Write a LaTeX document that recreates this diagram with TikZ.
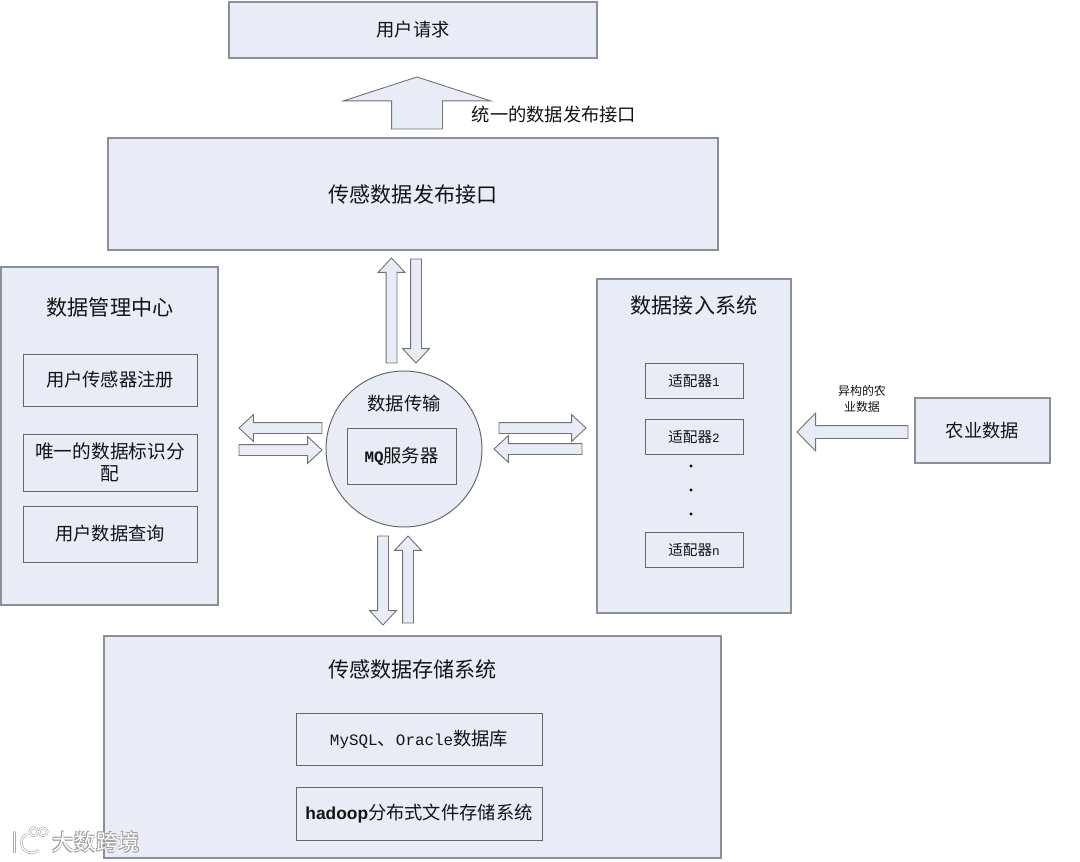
\documentclass[tikz,border=0pt]{standalone}
\usepackage{fontspec}
\setmainfont{Noto Sans CJK SC}
\newfontfamily\latmono[Scale=0.87]{Liberation Mono}
\newfontfamily\latbold[Scale=0.95]{Liberation Sans}
\usepackage{xcolor}
\usepackage{tikz}
\usetikzlibrary{shapes.arrows}
\definecolor{boxfill}{RGB}{231, 236, 247}
\definecolor{linegray}{RGB}{138, 143, 152}
\definecolor{textdark}{RGB}{20, 20, 20}
\newcommand{\fsbig}{\fontsize{15}{18}\selectfont}
\newcommand{\fsmid}{\fontsize{13}{16}\selectfont}
\newcommand{\fssmall}{\fontsize{10.4}{13}\selectfont}
\newcommand{\fstiny}{\fontsize{8.5}{10.8}\selectfont}
\tikzset{
  block/.style={draw=linegray, fill=boxfill, line width=0.85pt, inner sep=0pt, text=textdark, font=\fsmid},
  innerbox/.style={block, draw=black!60, line width=0.65pt},
  title/.style={text=textdark, inner sep=0pt, font=\fsbig},
  hollowarrow/.style={single arrow, anchor=tail, draw=black!55, fill=boxfill, line width=0.65pt,
    inner xsep=0pt, inner ysep=0.125cm, outer sep=0pt,
    single arrow head extend=0.2cm, single arrow tip angle=86},
  wmfont/.style={inner sep=0pt, font=\fontsize{15.6}{18}\selectfont},
  wmline/.style={draw=gray!65, line width=0.45pt, double=white, double distance=0.9pt, line cap=round}
}

\begin{document}
\begin{tikzpicture}
  \useasboundingbox (0,0) rectangle (27,21.525);
  \fill[white] (0,0) rectangle (27,21.525);

  % User request
  \node[block, minimum width=9.2cm, minimum height=1.4cm] (request) at (10.325,20.775) {用户请求};
  \node[hollowarrow, rotate=90, minimum height=1.3cm, inner ysep=0.625cm,
    single arrow head extend=1.2cm, single arrow tip angle=144] (release) at (10.425,18.3) {};
  \node[text=textdark, inner sep=0pt, font=\fsmid] (releaselabel) at (13.85,18.65) {统一的数据发布接口};

  % Publish interface
  \node[block, font=\fsbig, minimum width=15.25cm, minimum height=2.8cm] (publish) at (10.325,16.675) {传感数据发布接口};

  % Management center
  \node[block, minimum width=5.425cm, minimum height=8.45cm] (manage) at (2.7375,10.625) {};
  \node[title] (managetitle) at (2.75,13.85) {数据管理中心};
  \node[innerbox, minimum width=4.35cm, minimum height=1.3cm] (register) at (2.75,12.025) {用户传感器注册};
  \node[innerbox, font=\fontsize{13.3}{15.5}\selectfont, minimum width=4.35cm, minimum height=1.425cm, align=center] (assign) at (2.75,9.9625) {唯一的数据标识分\\配};
  \node[innerbox, minimum width=4.35cm, minimum height=1.4cm] (query) at (2.75,8.175) {用户数据查询};

  % Transfer
  \node[block, circle, draw=black!60, line width=0.7pt, minimum size=3.9cm] (transfer) at (10.1,10.3) {};
  \node[text=textdark, inner sep=0pt, font=\fsmid] (transfertitle) at (10.1,11.425) {数据传输};
  \node[innerbox, minimum width=2.725cm, minimum height=1.4cm] (mq) at (10.0375,10.125) {{\latmono\bfseries MQ}服务器};

  % Access system
  \node[block, minimum width=4.85cm, minimum height=8.35cm] (access) at (17.35,10.375) {};
  \node[title] (accesstitle) at (17.35,13.9) {数据接入系统};
  \node[innerbox, font=\fssmall, minimum width=2.45cm, minimum height=0.875cm] (adaptera) at (17.35,12.0125) {适配器{\latmono 1}};
  \node[innerbox, font=\fssmall, minimum width=2.45cm, minimum height=0.875cm] (adapterb) at (17.35,10.6125) {适配器{\latmono 2}};
  \node[innerbox, font=\fssmall, minimum width=2.45cm, minimum height=0.875cm] (adaptern) at (17.35,7.7875) {适配器{\latmono n}};
  \foreach \y/\n in {9.875/a,9.275/b,8.675/c}
    \fill[black] (17.275,\y) circle (0.04) coordinate (dot\n);

  % Farm data
  \node[block, minimum width=3.375cm, minimum height=1.625cm] (farm) at (24.5625,10.7625) {农业数据};
  \node[text=textdark, inner sep=0pt, align=center, font=\fstiny] (farmlabel) at (21.55,11.55) {异构的农\\业数据};
  \node[hollowarrow, rotate=180, minimum height=2.775cm, inner ysep=0.15cm,
    single arrow head extend=0.31cm, single arrow tip angle=91] (farmin) at (22.7,10.725) {};

  % Storage
  \node[block, minimum width=15.425cm, minimum height=5.55cm] (storage) at (10.3125,2.85) {};
  \node[title] (storagetitle) at (10.3125,4.8) {传感数据存储系统};
  \node[innerbox, minimum width=6.15cm, minimum height=1.3cm] (database) at (10.475,3.05) {{\latmono MySQL}、{\latmono Oracle}数据库};
  \node[innerbox, minimum width=6.15cm, minimum height=1.325cm] (hadoop) at (10.475,1.1875) {{\latbold\bfseries hadoop}分布式文件存储系统};

  % Arrows around the transfer circle
  \foreach \name/\x/\y/\r/\l in {upa/9.7875/12.45/90/2.625, downa/10.4/15.05/-90/2.6,
      lefta/8.05/10.825/180/2.075, righta/5.975/10.275/0/2.075,
      rightb/12.475/10.825/0/2.175, leftb/14.55/10.3/180/2.2,
      downb/9.575/8.125/-90/2.225, upb/10.2/5.95/90/2.175}
    \node[hollowarrow, rotate=\r, minimum height=\l cm] (\name) at (\x,\y) {};

  % Watermark
  \draw[wmline] (0.36,0.72) -- (0.36,0.22);
  \draw[wmline] (0.66,0.67) arc (120:310:0.25);
  \draw[wmline] (0.84,0.73) circle (0.1) (1.08,0.73) circle (0.1);
  \foreach \dx/\dy/\n in {0.02/-0.02/a,-0.02/0.02/b,0.02/0.02/c,-0.02/-0.02/d}
    \node[wmfont, text=gray!75] (wmedge\n) at (2.4+\dx,0.475+\dy) {大数跨境};
  \node[wmfont, text=white] (wmtext) at (2.4,0.475) {大数跨境};
\end{tikzpicture}
\end{document}
